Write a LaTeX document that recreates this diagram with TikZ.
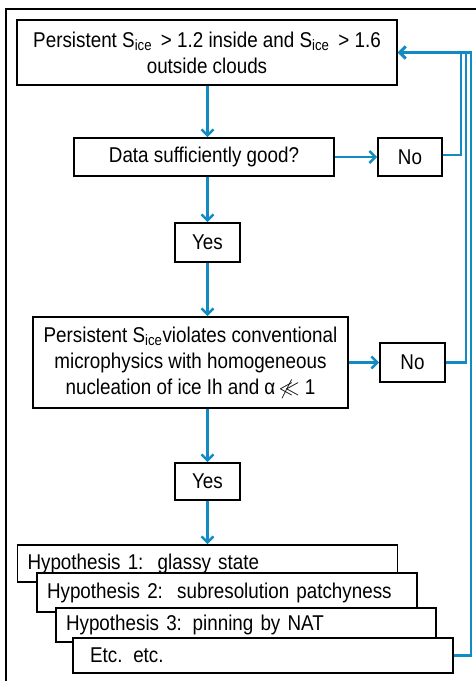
\documentclass[tikz,border=0pt]{standalone}
\usepackage{fontspec}
\setmainfont{Liberation Sans}[FakeStretch=0.88]
\usepackage{amsmath,amssymb}
\usepackage{tikz}
\usetikzlibrary{arrows.meta,positioning,calc}
\definecolor{loopBlue}{RGB}{18,138,196}

\tikzset{
  flowbox/.style={draw=black, line width=1.8pt, fill=white, align=center, inner sep=0pt},
  hypbox/.style={flowbox, inner xsep=10pt, text width=360pt, align=left},
  flowarrow/.style={draw=loopBlue, line width=2.8pt, -{Straight Barb[length=6pt,width=12pt,line width=2.4pt]}},
}

\begin{document}
\begin{tikzpicture}[x=1pt, y=-1pt, every node/.style={font=\fontsize{21.4}{26}\selectfont}]
  \useasboundingbox (0,0) rectangle (476,681);
  % outer frame
  \draw[line width=2.6pt] (6,681) -- (6,9) -- (476,9);

  % main chain
  \node[flowbox, minimum width=380pt, minimum height=65pt] (sice) at (207,52.5)
    {Persistent S\textsubscript{ice} \,> 1.2 inside and S\textsubscript{ice} \,> 1.6\\outside clouds};
  \node[flowbox, minimum width=260pt, minimum height=38pt] (data) at (204,157) {Data sufficiently good?};
  \node[flowbox, minimum width=64pt, minimum height=38pt] (no1) at (410,157) {No};
  \node[flowbox, minimum width=65pt, minimum height=39pt] (yes1) at (207.5,242.5) {Yes};
  \node[flowbox, minimum width=315pt, minimum height=91pt] (viol) at (190.5,362.5)
    {Persistent S\textsubscript{ice}violates conventional\\microphysics with homogeneous\\nucleation of ice Ih and α\,$\not\ll$\ 1};
  \node[flowbox, minimum width=65pt, minimum height=39pt] (no2) at (412.5,362.5) {No};
  \node[flowbox, minimum width=65pt, minimum height=37pt] (yes2) at (207.5,481.5) {Yes};

  % hypotheses, stacked
  \node[hypbox, minimum height=37pt] (hyp1) at (207.5,563.5) {Hypothesis 1:\ \ glassy state};
  \node[hypbox, minimum height=39pt] (hyp2) at (227,592.5) {Hypothesis 2:\ \ subresolution patchyness};
  \node[hypbox, minimum height=34pt] (hyp3) at (246,625) {Hypothesis 3: pinning by NAT};
  \node[hypbox, minimum height=35pt] (etc) at (263,655.5) {\ Etc. etc.};

  % arrows
  \draw[flowarrow] (yes1.north |- sice.south) -- (yes1.north |- data.north);
  \draw[flowarrow] (yes1.north |- data.south) -- (yes1.north);
  \draw[flowarrow] (yes1.south) -- (yes1.south |- viol.north);
  \draw[flowarrow] (yes1.south |- viol.south) -- (yes2.north);
  \draw[flowarrow] (yes2.south) -- (yes2.south |- hyp1.north);
  \draw[flowarrow] (data.east) -- (no1.west);
  \draw[flowarrow] (viol.east) -- (no2.west);

  % feedback loops
  \draw[flowarrow] ($(no1.east)+(0,-2)$) -| ($(sice.east)+(63,0)$) -- (sice.east);
  \draw[flowarrow] (no2.east) -| ($(sice.east)+(68,0)$) -- (sice.east);
  \draw[flowarrow] (etc.east) -| ($(sice.east)+(73,0)$) -- (sice.east);
\end{tikzpicture}
\end{document}
